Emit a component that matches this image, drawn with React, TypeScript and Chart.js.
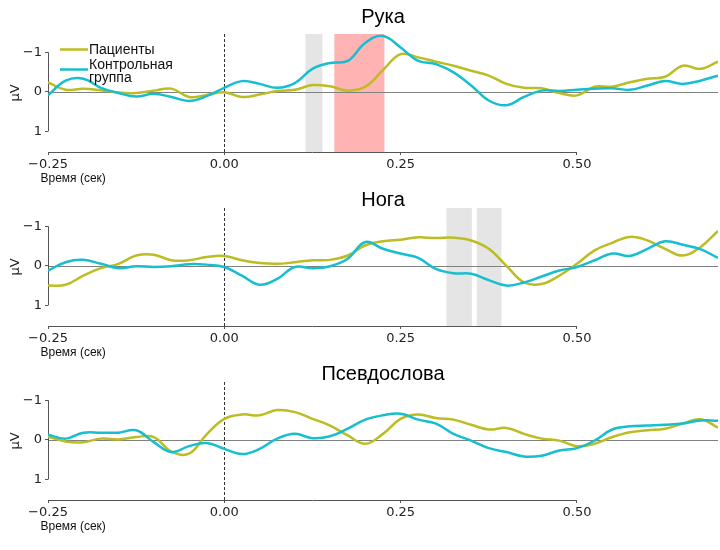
import React, { useEffect, useRef } from "react";
import { Chart, registerables } from "chart.js";

Chart.register(...registerables);

// ---- data -------------------------------------------------------------
const timeSec = [
  -0.25, -0.225, -0.2, -0.175, -0.15, -0.125, -0.1, -0.075, -0.05, -0.025,
  0, 0.025, 0.05, 0.075, 0.1, 0.125, 0.15, 0.175, 0.2, 0.225,
  0.25, 0.275, 0.3, 0.325, 0.35, 0.375, 0.4, 0.425, 0.45, 0.475,
  0.5, 0.525, 0.55, 0.575, 0.6, 0.625, 0.65, 0.675, 0.7,
];

const xTickValues = [-0.25, 0, 0.25, 0.5];
const yTickValues = [-1, 0, 1];

const seriesNames = ["Пациенты", "Контрольная\nгруппа"];
const panelTitles = ["Рука", "Нога", "Псевдослова"];
const xAxisLabel = "Время (сек)";
const yAxisLabel = "μV";

// Рука
const handPatients = [
  -0.24, -0.05, -0.08, -0.04, 0.02, 0.03, -0.03, -0.08, 0.13, 0.08,
  0.01, 0.13, 0.07, -0.02, -0.05, -0.17, -0.14, -0.03, -0.13, -0.55,
  -0.95, -0.87, -0.76, -0.66, -0.53, -0.41, -0.2, -0.1, -0.09, 0.03,
  0.09, -0.13, -0.13, -0.24, -0.33, -0.38, -0.66, -0.58, -0.76,
];
const handControl = [
  0.09, -0.28, -0.33, -0.1, 0.03, 0.12, 0.05, 0.13, 0.23, 0.11,
  -0.1, -0.27, -0.2, -0.1, -0.22, -0.58, -0.73, -0.78, -1.24, -1.41,
  -1.12, -0.78, -0.7, -0.49, -0.16, 0.22, 0.34, 0.13, -0.03, -0.02,
  -0.05, -0.08, -0.09, -0.05, -0.16, -0.27, -0.2, -0.28, -0.41,
];

// Нога
const legPatients = [
  0.5, 0.48, 0.25, 0.06, -0.05, -0.26, -0.28, -0.14, -0.14, -0.22,
  -0.25, -0.14, -0.07, -0.05, -0.09, -0.14, -0.15, -0.26, -0.52, -0.62,
  -0.66, -0.72, -0.7, -0.71, -0.64, -0.43, 0, 0.42, 0.46, 0.25,
  -0.05, -0.39, -0.58, -0.73, -0.64, -0.43, -0.26, -0.47, -0.88,
];
const legControl = [
  0.12, -0.09, -0.15, -0.05, 0.06, 0.01, 0.03, 0.01, -0.04, -0.03,
  0.03, 0.25, 0.48, 0.33, 0.03, 0.06, 0.01, -0.18, -0.6, -0.43,
  -0.31, -0.2, 0.08, 0.19, 0.2, 0.36, 0.5, 0.42, 0.27, 0.12,
  0.03, -0.14, -0.31, -0.25, -0.43, -0.62, -0.53, -0.42, -0.2,
];

// Псевдослова
const pseudoPatients = [
  -0.08, 0.04, 0.06, -0.03, -0.01, -0.07, -0.07, 0.3, 0.35, -0.14,
  -0.53, -0.64, -0.62, -0.75, -0.7, -0.53, -0.36, -0.11, 0.1, -0.15,
  -0.53, -0.64, -0.55, -0.51, -0.38, -0.26, -0.3, -0.15, -0.03, 0.02,
  0.16, 0.1, -0.07, -0.19, -0.24, -0.28, -0.41, -0.52, -0.31,
];
const pseudoControl = [
  -0.13, -0.03, -0.18, -0.18, -0.18, -0.24, 0.06, 0.31, 0.16, 0.08,
  0.23, 0.36, 0.23, -0.03, -0.15, -0.04, -0.09, -0.28, -0.51, -0.62,
  -0.66, -0.51, -0.41, -0.15, 0.02, 0.21, 0.31, 0.42, 0.4, 0.27,
  0.21, 0.02, -0.26, -0.34, -0.36, -0.38, -0.41, -0.49, -0.48,
];

// highlighted time windows (sec)
const handBandStarts = [0.115, 0.156];
const handBandEnds = [0.139, 0.227];
const handBandKinds = ["ns", "sig"];
const legBandStarts = [0.315, 0.358];
const legBandEnds = [0.351, 0.393];
const legBandKinds = ["ns", "ns"];

// ---- styles -----------------------------------------------------------
const COLOR_PATIENTS = "#bcbd22";
const COLOR_CONTROL = "#17becf";
const BAND_COLORS: Record<string, string> = { ns: "#e5e5e5", sig: "#ffb3b3" };
const TICK_FONT = { family: "'DejaVu Sans', sans-serif", size: 13 };
const CANVAS_W = 720;
const CANVAS_H = 190;
const AREA_TOP = 34;
const AREA_BOTTOM = 152;

type PanelCfg = {
  title: string;
  titleBaseline: number;
  patients: number[];
  control: number[];
  bandStarts: number[];
  bandEnds: number[];
  bandKinds: string[];
  legend: boolean;
  top: number;
};

const panels: PanelCfg[] = [
  {
    title: panelTitles[0], titleBaseline: 23, patients: handPatients, control: handControl,
    bandStarts: handBandStarts, bandEnds: handBandEnds, bandKinds: handBandKinds, legend: true, top: 0,
  },
  {
    title: panelTitles[1], titleBaseline: 32, patients: legPatients, control: legControl,
    bandStarts: legBandStarts, bandEnds: legBandEnds, bandKinds: legBandKinds, legend: false, top: 174,
  },
  {
    title: panelTitles[2], titleBaseline: 32, patients: pseudoPatients, control: pseudoControl,
    bandStarts: [], bandEnds: [], bandKinds: [], legend: false, top: 348,
  },
];

const fmtX = (v: number) => (v < 0 ? "\u2212" : "") + Math.abs(v).toFixed(2);
const fmtY = (v: number) => (v < 0 ? "\u2212" : "") + String(Math.abs(v));

function makeDecor(cfg: PanelCfg) {
  return {
    id: "decor",
    beforeDatasetsDraw(chart: any) {
      const { ctx, chartArea: a, scales } = chart;
      const x = scales.x, y = scales.y;
      ctx.save();
      // bands
      cfg.bandStarts.forEach((s, i) => {
        const x0 = x.getPixelForValue(s);
        const x1 = x.getPixelForValue(cfg.bandEnds[i]);
        ctx.fillStyle = BAND_COLORS[cfg.bandKinds[i]];
        ctx.fillRect(x0, a.top, x1 - x0, a.bottom - a.top);
      });
      // zero line
      const y0 = Math.round(y.getPixelForValue(0)) + 0.5;
      ctx.strokeStyle = "#808080";
      ctx.lineWidth = 1;
      ctx.beginPath();
      ctx.moveTo(a.left, y0);
      ctx.lineTo(a.right, y0);
      ctx.stroke();
      // onset dashed line
      const xz = Math.round(x.getPixelForValue(0)) + 0.5;
      ctx.setLineDash([3, 2]);
      ctx.strokeStyle = "#333";
      ctx.beginPath();
      ctx.moveTo(xz, a.top);
      ctx.lineTo(xz, a.bottom);
      ctx.stroke();
      ctx.setLineDash([]);
      // trimmed spines
      ctx.strokeStyle = "#555";
      ctx.lineWidth = 1;
      const yb = Math.round(a.bottom) + 0.5;
      ctx.beginPath();
      ctx.moveTo(x.getPixelForValue(xTickValues[0]), yb);
      ctx.lineTo(x.getPixelForValue(xTickValues[xTickValues.length - 1]), yb);
      ctx.stroke();
      const xl = Math.round(a.left) + 0.5;
      ctx.beginPath();
      ctx.moveTo(xl, y.getPixelForValue(yTickValues[0]));
      ctx.lineTo(xl, y.getPixelForValue(yTickValues[yTickValues.length - 1]));
      ctx.stroke();
      ctx.restore();
    },
    afterDraw(chart: any) {
      const { ctx, chartArea: a } = chart;
      ctx.save();
      // title
      ctx.fillStyle = "#000";
      ctx.font = "20px 'Liberation Sans', Arial, sans-serif";
      ctx.textAlign = "center";
      ctx.textBaseline = "alphabetic";
      ctx.fillText(cfg.title, (a.left + a.right) / 2, cfg.titleBaseline);
      // x label
      ctx.font = "12px 'Liberation Sans', Arial, sans-serif";
      ctx.textAlign = "left";
      ctx.fillStyle = "#111";
      ctx.fillText(xAxisLabel, 40.5, 182);
      // y label
      ctx.save();
      ctx.translate(16, (a.top + a.bottom) / 2);
      ctx.rotate(-Math.PI / 2);
      ctx.font = "13px 'DejaVu Sans', sans-serif";
      ctx.textAlign = "center";
      ctx.textBaseline = "middle";
      ctx.fillStyle = "#222";
      ctx.fillText(yAxisLabel, 0, 0);
      ctx.restore();
      // legend
      if (cfg.legend) {
        ctx.lineWidth = 2.5;
        ctx.lineCap = "butt";
        ctx.strokeStyle = COLOR_PATIENTS;
        ctx.beginPath();
        ctx.moveTo(60, 49.5);
        ctx.lineTo(88, 49.5);
        ctx.stroke();
        ctx.strokeStyle = COLOR_CONTROL;
        ctx.beginPath();
        ctx.moveTo(60, 69.5);
        ctx.lineTo(88, 69.5);
        ctx.stroke();
        ctx.font = "14px 'Liberation Sans', Arial, sans-serif";
        ctx.fillStyle = "#111";
        ctx.textAlign = "left";
        ctx.textBaseline = "alphabetic";
        ctx.fillText(seriesNames[0], 89, 54);
        const parts = seriesNames[1].split("\n");
        ctx.fillText(parts[0], 89, 69);
        ctx.fillText(parts[1], 89, 81.5);
      }
      ctx.restore();
    },
  };
}

function Panel({ cfg }: { cfg: PanelCfg }) {
  const ref = useRef<HTMLCanvasElement | null>(null);
  useEffect(() => {
    if (!ref.current) return;
    const chart = new Chart(ref.current, {
      type: "line",
      data: {
        datasets: [
          {
            label: seriesNames[0],
            data: timeSec.map((t, i) => ({ x: t, y: cfg.patients[i] })),
            borderColor: COLOR_PATIENTS,
            backgroundColor: COLOR_PATIENTS,
            borderWidth: 2.5,
            pointRadius: 0,
            tension: 0.4,
            fill: false,
            order: 1,
          },
          {
            label: seriesNames[1],
            data: timeSec.map((t, i) => ({ x: t, y: cfg.control[i] })),
            borderColor: COLOR_CONTROL,
            backgroundColor: COLOR_CONTROL,
            borderWidth: 2.5,
            pointRadius: 0,
            tension: 0.4,
            fill: false,
            order: 0,
          },
        ],
      },
      options: {
        responsive: false,
        animation: false,
        devicePixelRatio: 1,
        layout: { padding: { top: AREA_TOP, right: 2, left: 0, bottom: 0 } },
        plugins: {
          legend: { display: false },
          tooltip: { enabled: false },
          title: { display: false },
        },
        scales: {
          x: {
            type: "linear",
            min: timeSec[0],
            max: timeSec[timeSec.length - 1],
            afterBuildTicks: (s: any) => {
              s.ticks = xTickValues.map((v) => ({ value: v }));
            },
            afterFit: (s: any) => {
              s.height = CANVAS_H - AREA_BOTTOM;
            },
            ticks: {
              callback: (v: any) => fmtX(Number(v)),
              font: TICK_FONT,
              color: "#222",
              padding: 2,
              maxRotation: 0,
              autoSkip: false,
            },
            grid: { drawOnChartArea: false, drawTicks: true, tickLength: 3, color: "#555" },
            border: { display: false },
          },
          y: {
            type: "linear",
            reverse: true,
            min: -1.46,
            max: 1.52,
            afterBuildTicks: (s: any) => {
              s.ticks = yTickValues.map((v) => ({ value: v }));
            },
            afterFit: (s: any) => {
              s.width = 48;
            },
            ticks: {
              callback: (v: any) => fmtY(Number(v)),
              font: TICK_FONT,
              color: "#222",
              padding: 3,
              autoSkip: false,
            },
            grid: { drawOnChartArea: false, drawTicks: true, tickLength: 3, color: "#555" },
            border: { display: false },
          },
        },
      },
      plugins: [makeDecor(cfg)],
    } as any);
    return () => chart.destroy();
  }, [cfg]);
  return (
    <div style={{ position: "absolute", left: 0, top: cfg.top, width: CANVAS_W, height: CANVAS_H }}>
      <canvas ref={ref} width={CANVAS_W} height={CANVAS_H} style={{ display: "block" }} />
    </div>
  );
}

export default function App() {
  return (
    <div style={{ position: "absolute", left: 0, top: 0, width: 720, height: 550, background: "#fff", overflow: "hidden" }}>
      {panels.map((p) => (
        <Panel key={p.title} cfg={p} />
      ))}
    </div>
  );
}
